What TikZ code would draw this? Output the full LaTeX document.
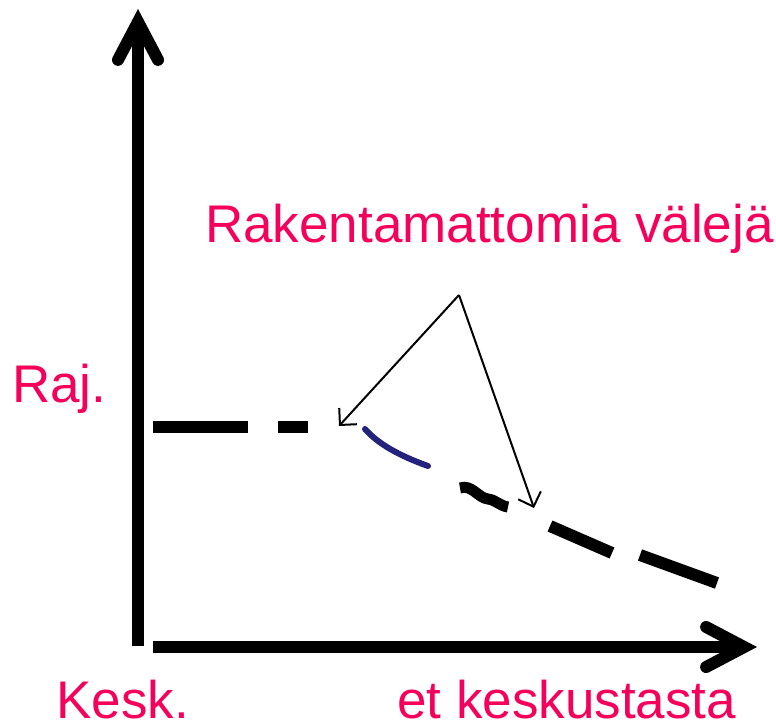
\documentclass[tikz,border=0pt]{standalone}
\usepackage{fontspec}
\setmainfont{Liberation Sans}
\usetikzlibrary{arrows.meta}
\definecolor{punainen}{RGB}{245,0,90}
\definecolor{sininen}{RGB}{35,35,125}

\begin{document}
\begin{tikzpicture}[x=1pt, y=-1pt,
    akseli/.style={line width=12pt,
      -{Straight Barb[length=38pt,width=40pt,line cap=round]}},
    paksu/.style={line width=12pt},
    nuoli/.style={line width=2pt,
      -{Straight Barb[length=12pt,width=24pt]}},
    teksti/.style={anchor=base west, inner sep=0pt, text=punainen,
      font=\fontsize{53}{60}\selectfont}]
  \useasboundingbox (0,0) rectangle (776,725);

  % Akselit
  \coordinate (ala) at (138,646);
  \coordinate (yla) at (138,9);
  \coordinate (vasen) at (153,647);
  \coordinate (oikea) at (757,647);
  \draw[akseli] (ala) -- (yla);
  \draw[akseli] (vasen) -- (oikea);

  % Tekstit
  \node[teksti] (otsikko) at (205,242) {Rakentamattomia välejä};
  \node[teksti] (raj) at (12,402) {Raj.};
  \node[teksti] (kesk) at (56,718) {Kesk.};
  \node[teksti] (etaisyys) at (397,718) {et keskustasta};

  % Katkoviiva
  \draw[paksu] (153,427) -- (248,427);
  \draw[paksu] (278,427) -- (308,427);
  \draw[sininen, line width=6pt, line cap=round]
    (365,429) .. controls (378,444) and (400,456) .. (428,466);
  \draw[line width=11pt]
    (460,488) .. controls (472,484) and (478,498) .. (488,499)
    .. controls (496,500) and (500,506) .. (508,507);
  \draw[paksu] (550,526) -- (612,553);
  \draw[paksu] (640,555) -- (717,583);

  % Nuolet
  \coordinate (lahto) at (459,295);
  \coordinate (kohde1) at (339,426);
  \coordinate (kohde2) at (534,508);
  \draw[nuoli] (lahto) -- (kohde1);
  \draw[nuoli] (lahto) -- (kohde2);
\end{tikzpicture}
\end{document}
